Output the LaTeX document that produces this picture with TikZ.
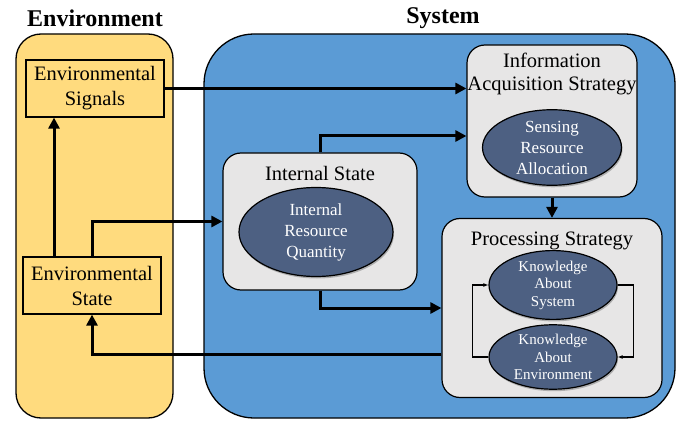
\documentclass[tikz,border=0pt]{standalone}
\usepackage{fontspec}
\setmainfont{Liberation Serif}
\usetikzlibrary{arrows.meta,shapes.geometric,shadows,positioning}
\definecolor{envyellow}{HTML}{FFDB7E}
\definecolor{sysblue}{HTML}{5B9BD5}
\definecolor{boxgray}{HTML}{E7E6E6}
\definecolor{ovalblue}{HTML}{4D6082}
\tikzset{
  region/.style={draw,line width=1.3pt},
  envbox/.style={draw,line width=1.2pt,fill=envyellow,inner sep=0pt,align=center,
    font=\fontsize{20.5}{25}\selectfont},
  stratbox/.style={draw,line width=1.2pt,fill=boxgray,rounded corners=18pt,inner sep=0pt},
  boxtitle/.style={align=center,inner sep=0pt,font=\fontsize{20.5}{23}\selectfont},
  oval/.style={ellipse,draw,line width=1.2pt,fill=ovalblue,text=white,align=center,inner sep=0pt,
    drop shadow={shadow xshift=1pt,shadow yshift=-2pt,opacity=0.55}},
  flow/.style={line width=3pt,-{Triangle[length=11pt,width=11pt]}},
  loopline/.style={line width=1.1pt,-{Latex[length=5pt,width=4pt]}}
}
\begin{document}
\begin{tikzpicture}[x=1pt,y=-1pt]
\useasboundingbox (0,0) rectangle (680,422);

% the two regions
\draw[region,fill=envyellow,rounded corners=25pt] (16,34) rectangle (173,418);
\draw[region,fill=sysblue,rounded corners=50pt] (204,34) rectangle (675,418);
\node[font=\fontsize{24}{26}\selectfont\bfseries] (envtitle) at (95,18) {Environment};
\node[font=\fontsize{24}{26}\selectfont\bfseries] (systitle) at (443,18) {System};

% environment
\node[envbox,minimum width=138pt,minimum height=57pt] (envsig) at (95,88.5) {Environmental\\Signals};
\node[envbox,minimum width=138pt,minimum height=57pt] (envstate) at (92,285.5) {Environmental\\State};

% system
\node[stratbox,minimum width=194pt,minimum height=137pt] (intstate) at (320,221.5) {};
\node[boxtitle] (intstatetitle) at (320,173) {Internal State};
\node[oval,minimum width=154pt,minimum height=89pt,font=\fontsize{17}{21}\selectfont] (intres) at (316,232)
  {Internal\\Resource\\Quantity};

\node[stratbox,minimum width=170pt,minimum height=152pt] (infoacq) at (552,121) {};
\node[boxtitle] (infoacqtitle) at (552,73.5) {Information\\Acquisition Strategy};
\node[oval,minimum width=139pt,minimum height=71pt,font=\fontsize{17}{21}\selectfont] (sensing) at (552,147.5)
  {Sensing\\Resource\\Allocation};

\node[stratbox,minimum width=220pt,minimum height=179pt] (proc) at (552,308) {};
\node[boxtitle] (proctitle) at (552,241) {Processing Strategy};
\node[oval,minimum width=128pt,minimum height=60pt,font=\fontsize{15}{17.5}\selectfont] (ksys) at (553,285)
  {Knowledge\\About\\System};
\node[oval,minimum width=128pt,minimum height=60pt,font=\fontsize{15}{17.5}\selectfont] (kenv) at (553,357)
  {Knowledge\\About\\Environment};

% connections
\draw[flow] ([xshift=-38pt]envstate.north) -- ([xshift=-38pt]envstate.north |- envsig.south);
\draw[flow] (envsig.east) -- (envsig.east -| infoacq.west);
\draw[flow] (envstate.north) |- (intstate.west);
\draw[flow] (intstate.north) |- ([yshift=-15pt]infoacq.west);
\draw[flow] (infoacq.south) -- (proc.north);
\draw[flow] (intstate.south) |- (proc.west);
\draw[flow] ([yshift=-46pt]proc.west) -| (envstate.south);

\draw[loopline] (kenv.west) -- ++(-16,0) |- (ksys.west);
\draw[loopline] (ksys.east) -- ++(16,0) |- (kenv.east);
\end{tikzpicture}
\end{document}
